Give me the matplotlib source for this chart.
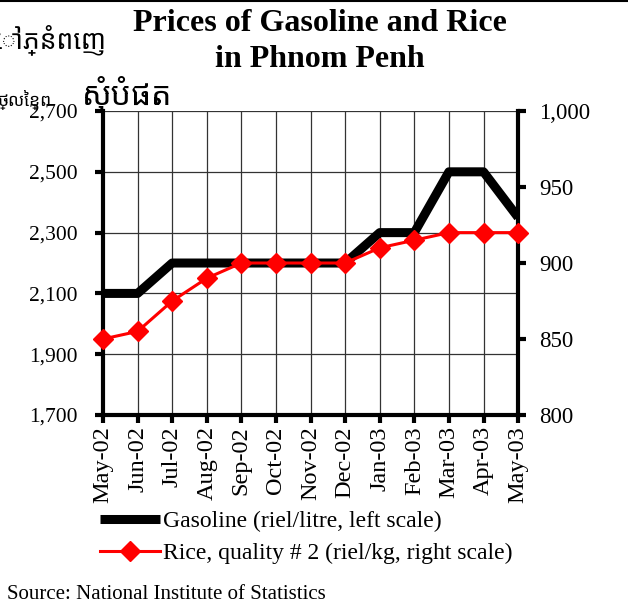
import numpy as np
import matplotlib
matplotlib.use("Agg")
import matplotlib.pyplot as plt
from matplotlib.lines import Line2D

plt.rcParams['font.family'] = 'Liberation Serif'

months = ['May-02', 'Jun-02', 'Jul-02', 'Aug-02', 'Sep-02', 'Oct-02', 'Nov-02',
          'Dec-02', 'Jan-03', 'Feb-03', 'Mar-03', 'Apr-03', 'May-03']
gasoline = [2100, 2100, 2200, 2200, 2200, 2200, 2200, 2200, 2300, 2300, 2500, 2500, 2350]
rice = [850, 855, 875, 890, 900, 900, 900, 900, 910, 915, 920, 920, 920]

left_ticks = [1700, 1900, 2100, 2300, 2500, 2700]
right_ticks = [800, 850, 900, 950, 1000]

fig = plt.figure(figsize=(6.28, 6.08), dpi=100)
ax = fig.add_axes([0.164, 0.3174, 0.661, 0.5])
ax2 = ax.twinx()

x = np.arange(len(months))
ax.plot(x, gasoline, color='black', lw=6.5, solid_capstyle='butt', zorder=3)
ax2.plot(x, rice, color='red', lw=2.2, marker='D', markersize=10, zorder=4, clip_on=False)

ax.set_xlim(0, len(months) - 1)
ax.set_ylim(1700, 2700)
ax2.set_ylim(800, 1000)
ax.set_xticks(x)
ax.set_xticklabels(months, rotation=90, fontsize=17.5)
ax.set_yticks(left_ticks)
ax.set_yticklabels([f'{v:,}' for v in left_ticks], fontsize=15.5)
ax2.set_yticks(right_ticks)
ax2.set_yticklabels([f'{v:,}' for v in right_ticks], fontsize=16.5)

ax.grid(True, color='#333333', lw=0.9)
ax.set_axisbelow(True)
ax.spines['top'].set_visible(False)
ax2.spines['top'].set_visible(False)
ax.spines['right'].set_visible(False)
ax.spines['left'].set_linewidth(3)
ax.spines['bottom'].set_linewidth(3)
ax2.spines['left'].set_visible(False)
ax2.spines['bottom'].set_visible(False)
ax2.spines['right'].set_linewidth(3)
ax.tick_params(axis='y', direction='out', length=6, width=3, pad=12)
ax.tick_params(axis='x', direction='out', length=6, width=3, pad=2)
ax2.tick_params(axis='y', direction='out', length=6, width=3, pad=9)

fig.text(0.51, 0.985, 'Prices of Gasoline and Rice\nin Phnom Penh', ha='center', va='top',
         fontsize=23, fontweight='bold', linespacing=1.3)

handles = [Line2D([], [], color='black', lw=6.5, solid_capstyle='butt'),
           Line2D([], [], color='red', lw=2.2, marker='D', markersize=10)]
fig.legend(handles, ['Gasoline (riel/litre, left scale)',
                     'Rice, quality # 2 (riel/kg, right scale)'],
           loc='upper left', bbox_to_anchor=(0.159, 0.160), frameon=False, fontsize=17,
           handlelength=2.55, handletextpad=0.13, labelspacing=0.45, borderaxespad=0,
           borderpad=0)

fig.text(0.011, 0.006, 'Source: National Institute of Statistics', fontsize=15, va='bottom')

khmer_font = ['Noto Sans Khmer', 'Khmer OS', 'Noto Sans', 'DejaVu Sans']
fig.text(-0.035, 0.934, 'នៅភ្នំពេញ', fontsize=19, fontweight='bold', family=khmer_font, va='center')
fig.text(-0.005, 0.836, 'ថ្លៃខ្ព', fontsize=12.5, family=khmer_font, va='center')
fig.text(0.13, 0.845, 'សុំបំផត', fontsize=23, fontweight='bold', family=khmer_font, va='center')

fig.add_artist(Line2D([0, 1], [0.999, 0.999], color='black', lw=1.5, transform=fig.transFigure))

fig.savefig('out.png', dpi=100)
